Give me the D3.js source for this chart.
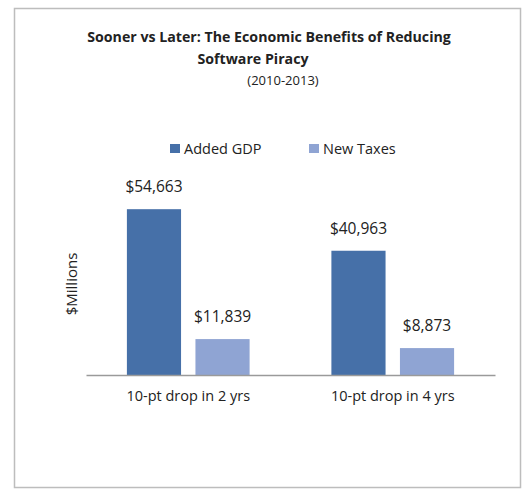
<!DOCTYPE html>
<html>
<head>
<meta charset="utf-8">
<script src="https://cdn.jsdelivr.net/npm/d3@7"></script>
<style>
  body { margin: 0; background: #fff; }
  text { font-family: 'Open Sans', sans-serif; fill: #222; }
</style>
</head>
<body>
<div class="chart"></div>
<script>
(function () {
  'use strict';

  var categories = ['10-pt drop in 2 yrs', '10-pt drop in 4 yrs'];
  var seriesNames = ['Added GDP', 'New Taxes'];
  var addedGdp = [54663, 40963];
  var newTaxes = [11839, 8873];
  var titleLines = ['Sooner vs Later: The Economic Benefits of Reducing', 'Software Piracy', '(2010-2013)'];
  var colors = ['#4670a8', '#8fa4d3'];

  var W = 523, H = 489;
  var svg = d3.select('.chart').append('svg')
      .attr('width', W)
      .attr('height', H);

  // frame
  svg.append('rect')
     .attr('x', 14.5).attr('y', 8.5)
     .attr('width', 506).attr('height', 479)
     .attr('fill', '#fff')
     .attr('stroke', '#bdbdbd')
     .attr('stroke-width', 1.5);

  // title
  svg.append('text')
     .attr('x', 269).attr('y', 42)
     .attr('text-anchor', 'middle')
     .style('font-size', '14.2px')
     .style('font-weight', 'bold')
     .text(titleLines[0]);
  svg.append('text')
     .attr('x', 253).attr('y', 64)
     .attr('text-anchor', 'middle')
     .style('font-size', '14.2px')
     .style('font-weight', 'bold')
     .text(titleLines[1]);
  svg.append('text')
     .attr('x', 283).attr('y', 85)
     .attr('text-anchor', 'middle')
     .style('font-size', '13px')
     .text(titleLines[2]);

  var data = categories.map(function (c, i) {
    return { cat: c, values: [addedGdp[i], newTaxes[i]] };
  });

  var x0 = d3.scaleBand().domain(categories).range([86, 495]).paddingInner(0.4).paddingOuter(0.2);
  var x1 = d3.scaleBand().domain(seriesNames).range([0, x0.bandwidth()]).paddingInner(0.21);
  var y = d3.scaleLinear().domain([0, 60000]).range([375, 193]);

  var g = svg.selectAll('.grp')
     .data(data)
     .enter()
     .append('g')
     .attr('class', 'grp')
     .attr('transform', function (d) { return 'translate(' + x0(d.cat) + ',0)'; });

  var fmt = d3.format(',');

  g.selectAll('rect')
   .data(function (d) { return d.values.map(function (v, j) { return { s: seriesNames[j], v: v, j: j }; }); })
   .enter()
   .append('rect')
   .attr('x', function (d) { return x1(d.s); })
   .attr('width', x1.bandwidth())
   .attr('y', function (d) { return y(d.v); })
   .attr('height', function (d) { return y(0) - y(d.v); })
   .attr('fill', function (d) { return colors[d.j]; });

  g.selectAll('.val')
   .data(function (d) { return d.values.map(function (v, j) { return { s: seriesNames[j], v: v }; }); })
   .enter()
   .append('text')
   .attr('class', 'val')
   .attr('x', function (d) { return x1(d.s) + x1.bandwidth() / 2; })
   .attr('y', function (d) { return y(d.v) - 17; })
   .attr('text-anchor', 'middle')
   .style('font-size', '15.5px')
   .text(function (d) { return '$' + fmt(d.v); });

  // x axis
  var xAxis = svg.append('g')
     .attr('transform', 'translate(0,' + y(0) + ')')
     .call(d3.axisBottom(x0).tickSize(0).tickPadding(16));
  xAxis.select('.domain').attr('stroke', '#9a9a9a').attr('stroke-width', 1.5);
  xAxis.selectAll('text')
     .style('font-size', '14.5px')
     .style('font-family', "'Open Sans', sans-serif")
     .attr('fill', '#222');

  // y label
  svg.append('text')
     .attr('transform', 'translate(77,284) rotate(-90)')
     .attr('text-anchor', 'middle')
     .style('font-size', '15px')
     .text('$Millions');

  // legend
  var legendX = [170, 309];
  var leg = svg.selectAll('.leg')
     .data(seriesNames)
     .enter()
     .append('g')
     .attr('class', 'leg')
     .attr('transform', function (d, i) { return 'translate(' + legendX[i] + ',148)'; });
  leg.append('rect')
     .attr('x', 0).attr('y', -4)
     .attr('width', 10).attr('height', 9)
     .attr('fill', function (d, i) { return colors[i]; });
  leg.append('text')
     .attr('x', 14).attr('y', 5.5)
     .style('font-size', '14.5px')
     .text(function (d) { return d; });
}());
</script>
</body>
</html>
